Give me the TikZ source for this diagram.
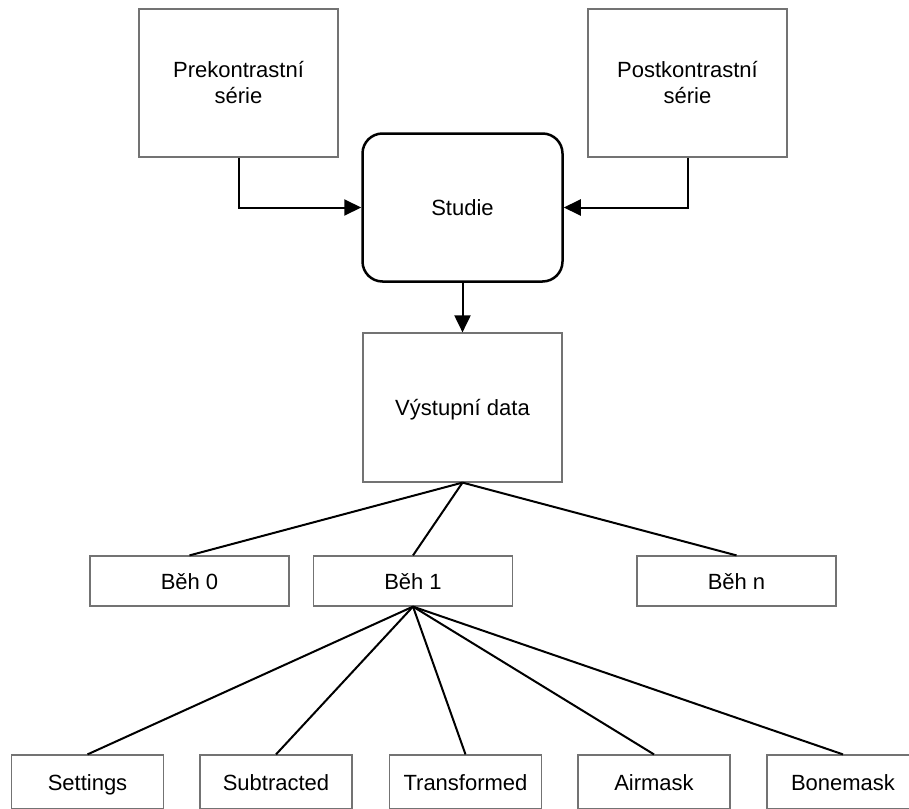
\documentclass[tikz,border=0pt]{standalone}
\usepackage{fontspec}
\setmainfont{Liberation Sans}
\usetikzlibrary{arrows.meta}
\begin{document}
\begin{tikzpicture}[x=1pt,y=-1pt,
  box/.style={draw=black!55, line width=1.2pt, inner sep=0pt, align=center,
    font=\fontsize{22}{26}\selectfont},
  oneline/.style={text height=16pt, text depth=0pt},
  bigbox/.style={box, minimum width=199pt, minimum height=148pt},
  runbox/.style={box, oneline, minimum width=199pt, minimum height=50pt},
  leafbox/.style={box, oneline, minimum width=152pt, minimum height=54pt},
  studiebox/.style={draw=black, line width=2.5pt, rounded corners=20pt, inner sep=0pt,
    oneline, minimum width=200pt, minimum height=148pt, font=\fontsize{22}{26}\selectfont},
  conn/.style={draw=black, line width=2pt},
  arr/.style={conn, -{Triangle[length=17pt,width=16pt]}}]
\clip (0,0) rectangle (909,808);
\node[bigbox] (pre) at (238.5,83) {Prekontrastní\\série};
\node[bigbox] (post) at (687.5,83) {Postkontrastní\\série};
\node[studiebox] (studie) at (462.5,207.5) {Studie};
\node[bigbox, oneline, minimum height=149pt] (vys) at (462.5,407.5) {Výstupní data};
\node[runbox] (b0) at (189.5,581) {Běh 0};
\node[runbox] (b1) at (413,581) {Běh 1};
\node[runbox] (bn) at (736.5,581) {Běh n};
\node[leafbox] (settings) at (87.5,782) {Settings};
\node[leafbox] (subtracted) at (276,782) {Subtracted};
\node[leafbox] (transformed) at (465.5,782) {Transformed};
\node[leafbox] (airmask) at (654,782) {Airmask};
\node[leafbox] (bonemask) at (843,782) {Bonemask};
\draw[arr] (pre.south) |- (studie.west);
\draw[arr] (post.south) |- (studie.east);
\draw[arr] (studie.south) -- (vys.north);
\draw[conn] (vys.south) -- (b0.north);
\draw[conn] (vys.south) -- (b1.north);
\draw[conn] (vys.south) -- (bn.north);
\draw[conn] (b1.south) -- (settings.north);
\draw[conn] (b1.south) -- (subtracted.north);
\draw[conn] (b1.south) -- (transformed.north);
\draw[conn] (b1.south) -- (airmask.north);
\draw[conn] (b1.south) -- (bonemask.north);
\end{tikzpicture}
\end{document}
